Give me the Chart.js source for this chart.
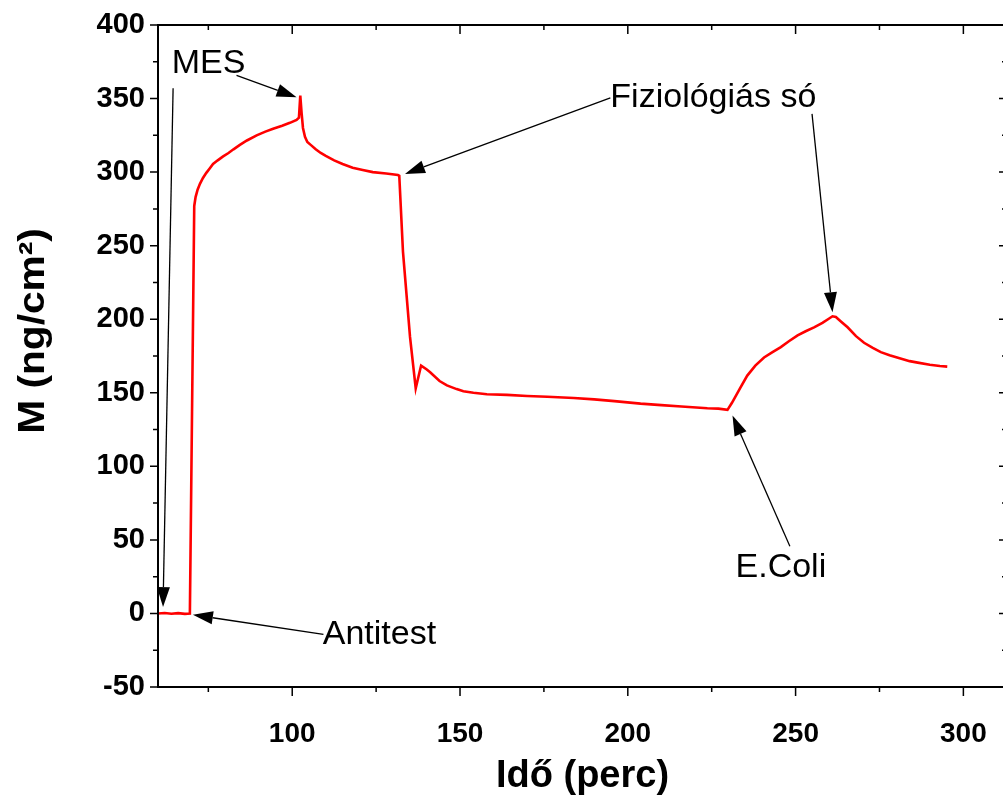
<!DOCTYPE html>
<html>
<head>
<meta charset="utf-8">
<script src="https://cdn.jsdelivr.net/npm/chart.js@4.4.0/dist/chart.umd.min.js"></script>
<style>
  html, body { margin: 0; padding: 0; background: #fff; overflow: hidden; }
  #wrap { width: 1010px; height: 799px; position: relative; }
</style>
</head>
<body>
<div id="wrap"><canvas id="grafico"></canvas></div>
<script>
// ido (perc) es M (ng/cm2), leolvasva a grafikonrol
var ido = [60, 62, 64, 66, 68, 69.5, 70.8, 71.2, 71.8, 72.5, 73.4, 74.4, 75.4, 76.4, 77.8, 79.3, 81, 82.5, 84.4,
  86.5, 89.4, 92, 94.3, 97, 99.3, 101.3, 102, 102.4, 102.8, 103.2, 103.8, 104.5, 105.5, 107, 108.5, 110,
  112.5, 115, 118, 121, 124, 128, 131.5, 131.9,
  133, 135.1, 136.8, 138.4, 140, 141.1, 143.9, 146.1, 149, 151, 154, 158, 164, 170, 176, 183.9, 190, 196,
  203.8, 210, 216, 223.7, 227, 229.7, 231, 233.6, 235.6, 238, 240.6, 243, 245.6, 248, 250.6, 253, 255.5,
  258, 260, 261, 262, 263.5, 265.5, 268, 270.4, 273, 275.4, 278, 281, 284, 286.4, 290, 293, 295.2];
var tomeg = [0, 0.3, -0.2, 0.2, -0.3, 0, 277, 283, 288, 292, 296, 299.5, 302.5, 305.5, 308, 310.5, 313, 315.5, 318.5,
  321.5, 325, 327.5, 329.5, 331.5, 333.5, 335.5, 337, 352, 340, 330, 324, 320.5, 318.5, 315.5, 313, 311,
  308, 305.5, 303, 301.5, 300, 299, 298, 297.5,
  246, 188, 153, 168.5, 166, 164, 158, 155, 152.5, 151, 150, 149, 148.6, 147.8, 147.3, 146.5, 145.5, 144.3,
  142.6, 141.6, 140.7, 139.5, 139.2, 138.4, 143, 153.7, 161.7, 168.5, 174, 177.5, 181, 185, 189, 191.8, 194.5,
  197.5, 200.5, 202, 201.5, 198.5, 194.5, 188.5, 184, 180.5, 177.6, 175.5, 173.5, 171.5, 170.5, 169, 168.2, 167.8];

var xTicks = [100, 150, 200, 250, 300];
var yTicks = [-50, 0, 50, 100, 150, 200, 250, 300, 350, 400];
var yCim = 'M (ng/cm²)';

// feliratok: szoveg helye es nyilak (adat koordinatakban)
var feliratok = [
  { text: 'MES', x: 64.1, y: 375 },
  { text: 'Antitest', x: 109.1, y: -13.3 },
  { text: 'Fiziológiás só', x: 194.8, y: 351.8 },
  { text: 'E.Coli', x: 232.1, y: 32.8 }
];
var nyilak = [
  [83.4, 365.7, 101.3, 350.9],
  [64.5, 357, 61.5, 4.3],
  [109.3, -14.3, 70.4, -0.9],
  [194.8, 350.4, 133.6, 298.8],
  [254.9, 339.6, 261.0, 204.7],
  [248.3, 45.7, 231.2, 134.5]
];

var pontok = ido.map((x, i) => ({ x: x, y: tomeg[i] }));

var keretPlugin = {
  id: 'keret',
  afterDraw(chart) {
    const ctx = chart.ctx;
    const a = chart.chartArea;
    const sx = chart.scales.x, sy = chart.scales.y;
    ctx.save();
    ctx.strokeStyle = '#000';
    ctx.lineWidth = 2;
    ctx.strokeRect(a.left, a.top, a.right - a.left, a.bottom - a.top);
    // kis es nagy osztasok
    ctx.lineWidth = 1.5;
    for (let v = 75; v <= sx.max; v += 25) {
      const px = sx.getPixelForValue(v);
      const len = v % 50 === 0 ? 9 : 5;
      ctx.beginPath();
      ctx.moveTo(px, a.bottom); ctx.lineTo(px, a.bottom + len);
      ctx.moveTo(px, a.top); ctx.lineTo(px, a.top + len);
      ctx.stroke();
    }
    for (let v = -50; v <= 400; v += 25) {
      const py = sy.getPixelForValue(v);
      const len = v % 50 === 0 ? 8 : 5;
      ctx.beginPath();
      ctx.moveTo(a.left, py); ctx.lineTo(a.left - len, py);
      ctx.moveTo(a.right, py); ctx.lineTo(a.right - len, py);
      ctx.stroke();
    }
    // nyilak
    ctx.lineWidth = 1.3;
    ctx.fillStyle = '#000';
    nyilak.forEach(n => {
      const x1 = sx.getPixelForValue(n[0]), y1 = sy.getPixelForValue(n[1]);
      const x2 = sx.getPixelForValue(n[2]), y2 = sy.getPixelForValue(n[3]);
      const ang = Math.atan2(y2 - y1, x2 - x1);
      const hl = 20, hw = 6.5;
      const bx = x2 - hl * Math.cos(ang), by = y2 - hl * Math.sin(ang);
      ctx.beginPath();
      ctx.moveTo(x1, y1); ctx.lineTo(bx, by);
      ctx.stroke();
      ctx.beginPath();
      ctx.moveTo(x2, y2);
      ctx.lineTo(bx + hw * Math.sin(ang), by - hw * Math.cos(ang));
      ctx.lineTo(bx - hw * Math.sin(ang), by + hw * Math.cos(ang));
      ctx.closePath();
      ctx.fill();
    });
    ctx.font = '34px "Liberation Sans", Arial, sans-serif';
    ctx.textAlign = 'left';
    ctx.textBaseline = 'middle';
    feliratok.forEach(f => {
      ctx.fillText(f.text, sx.getPixelForValue(f.x), sy.getPixelForValue(f.y) + 2);
    });
    // y tengely cime (kicsit szelesebb betukkel, mint az eredetiben)
    ctx.translate(32, sy.getPixelForValue(192));
    ctx.rotate(-Math.PI / 2);
    ctx.scale(1.13, 1);
    ctx.font = 'bold 36px "Liberation Sans", Arial, sans-serif';
    ctx.textAlign = 'center';
    ctx.fillText(yCim, 0, 2);
    ctx.restore();
  }
};

var ctx = document.getElementById('grafico').getContext('2d');
new Chart(ctx, {
  type: 'line',
  data: {
    datasets: [{
      data: pontok,
      borderColor: '#ff0000',
      borderWidth: 2.6,
      pointRadius: 0,
      fill: false,
      tension: 0
    }]
  },
  options: {
    responsive: true,
    maintainAspectRatio: false,
    animation: false,
    layout: { padding: { top: 25, right: 3, left: 0, bottom: 0 } },
    plugins: { legend: { display: false }, tooltip: { enabled: false } },
    scales: {
      x: {
        type: 'linear',
        min: 60,
        max: 313,
        afterBuildTicks: s => { s.ticks = xTicks.map(v => ({ value: v })); },
        afterFit: s => { s.height = 112; },
        grid: { display: false },
        border: { display: false },
        ticks: {
          color: '#000',
          padding: 22,
          maxRotation: 0,
          font: { family: '"Liberation Sans", Arial, sans-serif', size: 28, weight: 'bold' }
        },
        title: {
          display: true,
          text: 'Idő (perc)',
          color: '#000',
          padding: { top: 10, bottom: 0 },
          font: { family: '"Liberation Sans", Arial, sans-serif', size: 38, weight: 'bold' }
        }
      },
      y: {
        type: 'linear',
        min: -50,
        max: 400,
        afterBuildTicks: s => { s.ticks = yTicks.map(v => ({ value: v })); },
        afterFit: s => { s.width = 158; },
        grid: { display: false },
        border: { display: false },
        ticks: {
          color: '#000',
          padding: 5,
          font: { family: '"Liberation Sans", Arial, sans-serif', size: 29, weight: 'bold' }
        },
        title: { display: false }
      }
    }
  },
  plugins: [keretPlugin]
});
</script>
</body>
</html>
